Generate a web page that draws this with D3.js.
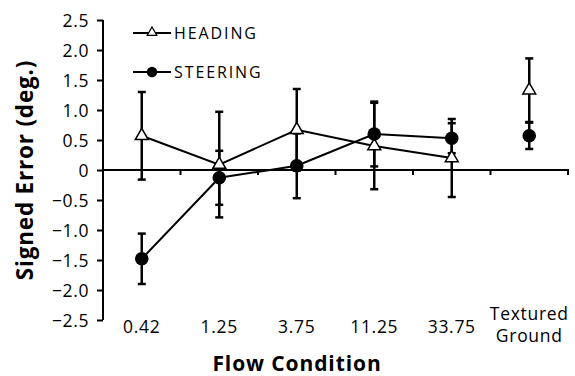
<!DOCTYPE html>
<html><head><meta charset="utf-8">
<script src="https://cdn.jsdelivr.net/npm/d3@7"></script>
<style>
body{margin:0;background:#fff;}
text{font-family:"Open Sans",sans-serif;fill:#000;}
</style></head>
<body><svg id="c" width="575" height="376"></svg>
<script>
const categories = ["0.42","1.25","3.75","11.25","33.75","Textured Ground"];
const headingVals = [0.57, 0.09, 0.67, 0.40, 0.20, 1.33];
const headingErr  = [0.73, 0.88, 0.68, 0.72, 0.65, 0.53];
const steeringVals = [-1.48, -0.13, 0.07, 0.60, 0.53, 0.57];
const steeringErr  = [0.42, 0.45, 0.54, 0.54, 0.25, 0.22];
const yTicks = [2.5, 2.0, 1.5, 1.0, 0.5, 0, -0.5, -1.0, -1.5, -2.0, -2.5];
const connected = 5; // first five conditions joined by lines

const svg = d3.select("#c");
const x = d3.scaleBand().domain(categories).range([103, 568]).padding(0);
const y = d3.scaleLinear().domain([-2.5, 2.5]).range([320, 20]);
const cx = c => x(c) + x.bandwidth()/2;

// Y axis
const yAxis = d3.axisLeft(y).tickValues(yTicks).tickSize(6).tickPadding(8)
  .tickFormat(d => d === 0 ? "0" : d3.format(".1f")(d).replace("-", "\u2013"));
const gy = svg.append("g").attr("transform", "translate(103,0)").call(yAxis);
gy.select(".domain").attr("stroke","#000").attr("stroke-width",2).attr("d","M0,"+y(2.5)+"V"+y(-2.5));
gy.selectAll(".tick line").attr("stroke","#000").attr("stroke-width",2);
gy.selectAll(".tick text").attr("font-size",17.5).attr("font-family","Open Sans").attr("letter-spacing",0.6)
  .attr("fill","#000").attr("dy","0.36em");

// X axis at zero
const xAxis = d3.axisBottom(x).tickSize(0).tickFormat("");
const gx = svg.append("g").attr("transform", `translate(0,${y(0)})`).call(xAxis);
gx.select(".domain").attr("stroke","#000").attr("stroke-width",2).attr("d","M103,0H569");
gx.selectAll(".tick").remove();
const bounds = categories.map(c => x(c)).concat([x(categories[categories.length-1]) + x.bandwidth()]);
gx.selectAll("line.b").data(bounds.slice(1)).join("line").attr("class","b")
  .attr("x1", d=>d).attr("x2", d=>d).attr("y1",0).attr("y2",5)
  .attr("stroke","#000").attr("stroke-width",2);

// category labels
svg.append("g").selectAll("text").data(categories).join("text")
  .attr("x", d => cx(d)).attr("text-anchor","middle").attr("font-size",17.5).attr("letter-spacing",0.7)
  .each(function(d){
    const parts = d.split(" ");
    const t = d3.select(this);
    if (parts.length === 1) {
      t.attr("y", 333).text(d);
    } else {
      t.attr("y", 320);
      parts.forEach((p,i) => t.append("tspan").attr("x", cx(d)).attr("dy", i===0?0:22).text(p));
    }
  });

// Axis titles
svg.append("text").attr("x", 297).attr("y", 371).attr("text-anchor","middle")
  .attr("font-size",21).attr("font-weight","bold").attr("letter-spacing",0.9).text("Flow Condition");
svg.append("text").attr("transform","translate(33,170) rotate(-90)").attr("text-anchor","middle")
  .attr("font-size",22.5).attr("font-weight","bold").attr("letter-spacing",0.8).text("Signed Error (deg.)");

const line = d3.line().x(d => cx(d.c)).y(d => y(d.v));
const mk = (vals, errs) => categories.map((c,i) => ({c, v: vals[i], e: errs[i]}));
const H = mk(headingVals, headingErr), S = mk(steeringVals, steeringErr);

svg.append("path").datum(H.slice(0,connected)).attr("d", line).attr("fill","none").attr("stroke","#000").attr("stroke-width",2);
svg.append("path").datum(S.slice(0,connected)).attr("d", line).attr("fill","none").attr("stroke","#000").attr("stroke-width",2);

function errBars(data){
  const g = svg.append("g").attr("stroke","#000").attr("stroke-width",2.5);
  data.forEach(d => {
    const X = cx(d.c), t = y(d.v + d.e), b = y(d.v - d.e);
    g.append("line").attr("x1",X).attr("x2",X).attr("y1",t).attr("y2",b);
    g.append("line").attr("x1",X-4).attr("x2",X+4).attr("y1",t).attr("y2",t);
    g.append("line").attr("x1",X-4).attr("x2",X+4).attr("y1",b).attr("y2",b);
  });
}
errBars(H); errBars(S);

const tri = d3.symbol().type(d3.symbolTriangle).size(72);
svg.append("g").selectAll("path").data(H).join("path")
  .attr("d", tri).attr("transform", d => `translate(${cx(d.c)},${y(d.v)})`)
  .attr("fill","#fff").attr("stroke","#000").attr("stroke-width",1.5);
svg.append("g").selectAll("circle").data(S).join("circle")
  .attr("cx", d => cx(d.c)).attr("cy", d => y(d.v)).attr("r",6.8).attr("fill","#000");

// legend
const triS = d3.symbol().type(d3.symbolTriangle).size(40);
const leg = svg.append("g");
[["HEADING",33,"tri"],["STEERING",72,"circ"]].forEach(([lab,ly,m]) => {
  leg.append("line").attr("x1",133).attr("x2",171).attr("y1",ly).attr("y2",ly).attr("stroke","#000").attr("stroke-width",2);
  if (m === "tri") leg.append("path").attr("d",triS).attr("transform",`translate(152,${ly-0.5})`).attr("fill","#fff").attr("stroke","#000").attr("stroke-width",1.3);
  else leg.append("circle").attr("cx",152).attr("cy",ly).attr("r",5.2).attr("fill","#000");
  leg.append("text").attr("x",174).attr("y",ly+5.8).attr("font-size",16).attr("letter-spacing",1.9).text(lab);
});
</script></body></html>
